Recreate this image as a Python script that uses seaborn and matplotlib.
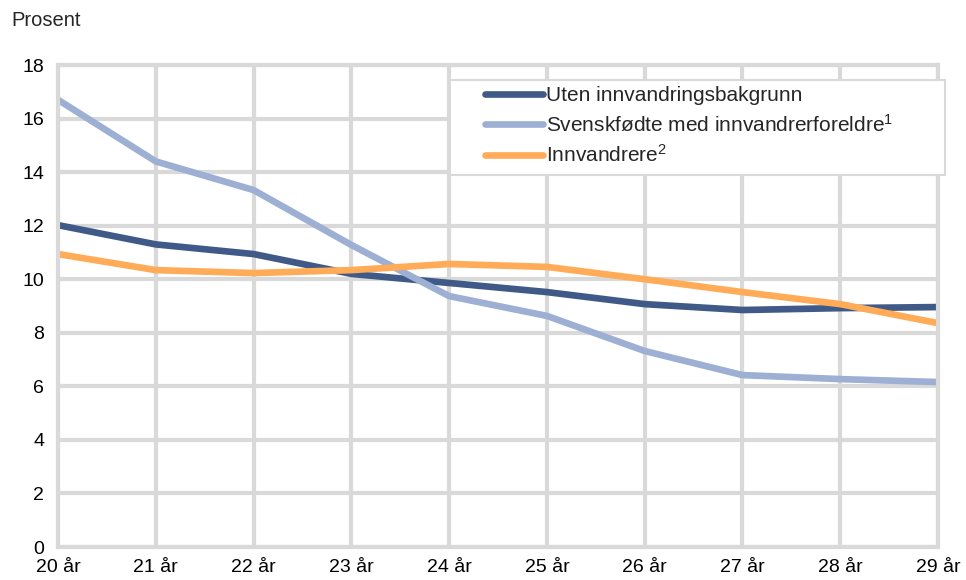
import matplotlib
matplotlib.use("Agg")
import matplotlib.pyplot as plt
from matplotlib.patches import Rectangle
import seaborn as sns
import pandas as pd

# data
ages = ["20 år", "21 år", "22 år", "23 år", "24 år", "25 år", "26 år", "27 år", "28 år", "29 år"]
uten = [12.02, 11.3, 10.94, 10.2, 9.86, 9.52, 9.07, 8.85, 8.92, 8.96]
svenskfodte = [16.7, 14.4, 13.33, 11.28, 9.37, 8.63, 7.32, 6.42, 6.27, 6.16]
innvandrere = [10.94, 10.34, 10.23, 10.34, 10.57, 10.46, 10.0, 9.52, 9.07, 8.36]
series_names = ["Uten innvandringsbakgrunn",
                "Svenskfødte med innvandrerforeldre$^1$",
                "Innvandrere$^2$"]
colors = ["#3f5a87", "#9dafd3", "#ffab57"]

sns.set_style("white")
plt.rcParams["font.family"] = ["Liberation Sans", "DejaVu Sans"]
plt.rcParams["mathtext.fontset"] = "custom"
plt.rcParams["mathtext.rm"] = "Liberation Sans"
plt.rcParams["mathtext.it"] = "Liberation Sans"

rows = []
for name, vals in zip(series_names, [uten, svenskfodte, innvandrere]):
    for i, v in enumerate(vals):
        rows.append({"x": i, "value": v, "serie": name})
df = pd.DataFrame(rows)

fs = 14
lw = 4.8
fig = plt.figure(figsize=(9.66, 5.8), dpi=100)
ax = fig.add_axes([58 / 966, 1 - 547 / 580, 880 / 966, 482 / 580])

sns.lineplot(data=df, x="x", y="value", hue="serie", palette=colors,
             hue_order=series_names, linewidth=lw, ax=ax, legend=True,
             solid_capstyle="butt")

ax.set_xlim(0, 9)
ax.set_ylim(0, 18)
ax.set_xticks(range(len(ages)))
ax.set_xticklabels(ages)
ax.set_yticks(range(0, 19, 2))
ax.tick_params(axis="both", length=0, labelsize=fs, colors="black")
ax.tick_params(axis="x", pad=9)
ax.tick_params(axis="y", pad=10)
ax.set_xlabel("")
ax.set_ylabel("")
ax.grid(True, color="#d9d9d9", linewidth=3)
ax.set_axisbelow(True)
for s in ax.spines.values():
    s.set_color("#d9d9d9")
    s.set_linewidth(3)

fig.text(11 / 966, 1 - 20 / 580, "Prosent", fontsize=14.5, va="center", ha="left")

# legend box drawn separately, entries placed inside it
box = Rectangle((450 / 966, 1 - 175 / 580), 495 / 966, 95 / 580,
                transform=fig.transFigure, facecolor="white",
                edgecolor="#d9d9d9", linewidth=1.5, zorder=5, clip_on=False)
ax.add_patch(box)

leg = ax.legend(loc="upper left", bbox_to_anchor=(485 / 966, 1 - 86 / 580),
                bbox_transform=fig.transFigure, fontsize=15, frameon=False,
                handlelength=2.8, handletextpad=0.12, labelspacing=0.42,
                borderpad=0, borderaxespad=0)
leg.set_zorder(6)
for line in leg.get_lines():
    line.set_linewidth(lw)
    line.set_solid_capstyle("round")

fig.savefig("out.png", dpi=100)
